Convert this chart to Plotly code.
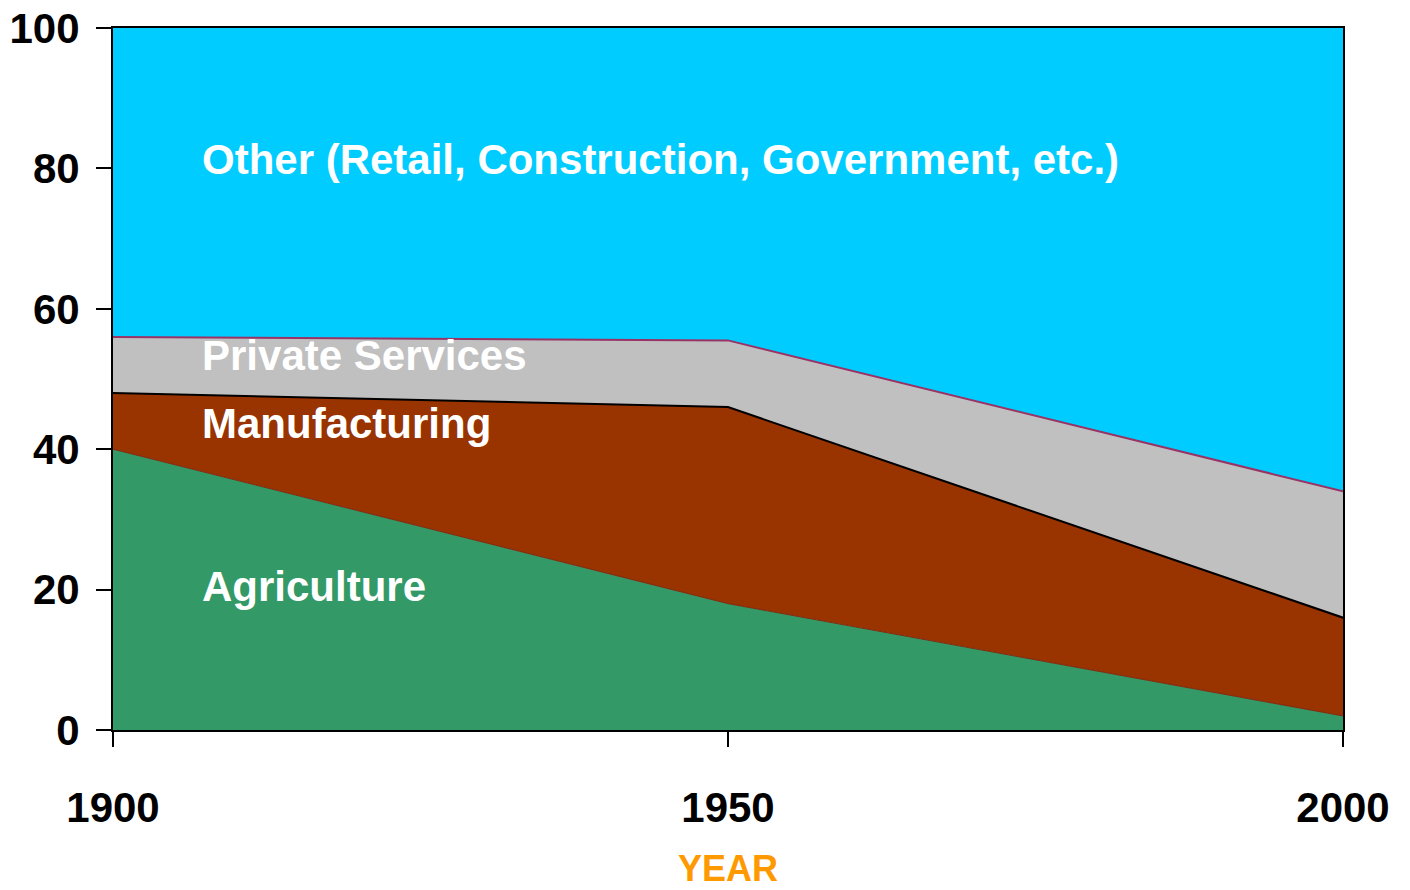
import plotly.graph_objects as go

years = [1900, 1950, 2000]
agriculture = [40, 18, 2]
manufacturing = [8, 28, 14]
private_services = [8, 9.5, 18]
other = [44, 44.5, 66]

labels = ["Agriculture", "Manufacturing", "Private Services", "Other (Retail, Construction, Government, etc.)"]
label_y = [20.4, 43.6, 53.4, 81.2]

fig = go.Figure()
fig.add_trace(go.Scatter(x=years, y=agriculture, stackgroup="s", mode="lines",
                         line=dict(color="#7a2a10", width=1), fillcolor="#339966", name=labels[0]))
fig.add_trace(go.Scatter(x=years, y=manufacturing, stackgroup="s", mode="lines",
                         line=dict(color="black", width=2), fillcolor="#993300", name=labels[1]))
fig.add_trace(go.Scatter(x=years, y=private_services, stackgroup="s", mode="lines",
                         line=dict(color="#993366", width=2), fillcolor="#C0C0C0", name=labels[2]))
fig.add_trace(go.Scatter(x=years, y=other, stackgroup="s", mode="lines",
                         line=dict(color="black", width=0), fillcolor="#00CCFF", name=labels[3]))

for t, yv in zip(labels, label_y):
    fig.add_annotation(x=1907.07, y=yv, text="<b>" + t + "</b>", showarrow=False,
                       xanchor="left", yanchor="middle",
                       font=dict(family="Liberation Sans, Arial", size=42, color="white"))

fig.add_annotation(x=0.5, y=-0.197, xref="paper", yref="paper", text="<b>YEAR</b>", showarrow=False,
                   yanchor="middle",
                   font=dict(family="Liberation Sans, Arial", size=36, color="#FF9900"))

tickfont = dict(family="Liberation Sans Narrow, Arial Narrow, Liberation Sans", size=42, color="black")
fig.update_layout(
    width=1394, height=874,
    margin=dict(l=105, r=59, t=20, b=152, autoexpand=False),
    paper_bgcolor="white", plot_bgcolor="white",
    showlegend=False,
    font=dict(family="Liberation Sans, Arial"),
    xaxis=dict(range=[1900, 2000], tickvals=years, ticktext=["<b>1900</b>", "<b>1950</b>", "<b>2000</b>"],
               showgrid=False, zeroline=False, showline=True, linecolor="black", linewidth=2, mirror=True,
               ticks="outside", ticklen=15, tickwidth=2, tickcolor="black", automargin=False,
               tickfont=tickfont, ticklabelstandoff=25, ticklabeloverflow="allow"),
    yaxis=dict(range=[0, 100], tickvals=[0, 20, 40, 60, 80, 100],
               ticktext=["<b>%d</b>" % v for v in [0, 20, 40, 60, 80, 100]],
               showgrid=False, zeroline=False, showline=True, linecolor="black", linewidth=2, mirror=True,
               ticks="outside", ticklen=15, tickwidth=2, tickcolor="black", automargin=False,
               tickfont=tickfont, ticklabelstandoff=8, ticklabeloverflow="allow"),
)

fig.write_html("out.html")
